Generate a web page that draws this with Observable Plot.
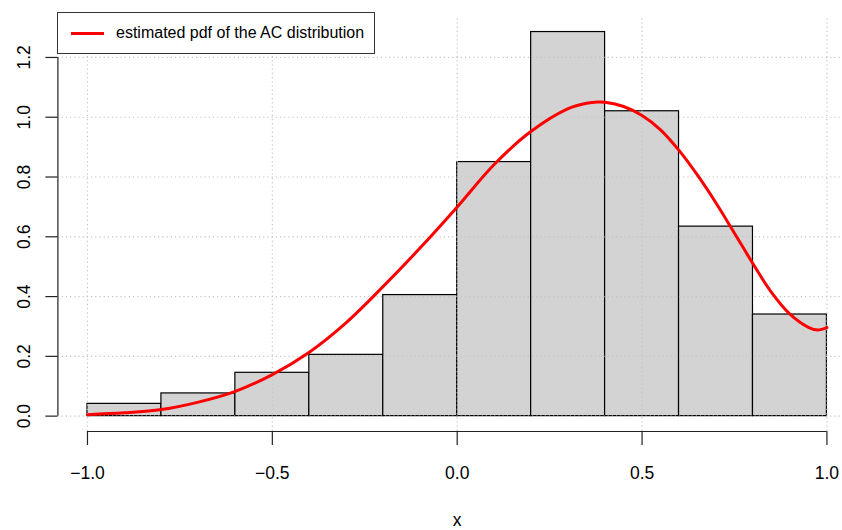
<!DOCTYPE html>
<html>
<head>
<meta charset="utf-8">
<script src="https://cdn.jsdelivr.net/npm/d3@7"></script>
<script src="https://cdn.jsdelivr.net/npm/@observablehq/plot@0.6"></script>
<style>
  html, body { margin: 0; padding: 0; background: #fff; overflow: hidden; }
  #wrap { position: relative; width: 842px; height: 530px; }
  #legend {
    position: absolute; left: 57px; top: 12px; width: 316px; height: 40px;
    border: 1px solid #333; background: #fff; box-sizing: content-box;
    font-family: "Liberation Sans", Arial, Helvetica, sans-serif; font-size: 16px; color: #000;
  }
  #legend svg { position: absolute; left: 0; top: 0; }
  #legend span { position: absolute; left: 58px; top: 10px; line-height: 20px; white-space: nowrap; }
</style>
</head>
<body>
<div id="wrap"></div>
<script>
// Histogram bins (density scale)
const binStarts = [-1.0, -0.8, -0.6, -0.4, -0.2, 0.0, 0.2, 0.4, 0.6, 0.8];
const binEnds   = [-0.8, -0.6, -0.4, -0.2, 0.0, 0.2, 0.4, 0.6, 0.8, 1.0];
const densities = [0.041, 0.076, 0.145, 0.205, 0.405, 0.850, 1.285, 1.020, 0.634, 0.340];

// Estimated pdf curve
const curveX = [-1.00, -0.90, -0.80, -0.70, -0.60, -0.50, -0.40, -0.30, -0.20, -0.10,
                 0.00,  0.10,  0.20,  0.30,  0.35,  0.38,  0.40,  0.45,  0.50,  0.55,
                 0.60,  0.65,  0.70,  0.75,  0.80,  0.85,  0.90,  0.95,  0.975, 1.00];
const curveY = [0.005, 0.011, 0.022, 0.047, 0.083, 0.139, 0.214, 0.313, 0.434, 0.563,
                0.700, 0.842, 0.953, 1.029, 1.047, 1.051, 1.050, 1.036, 1.006, 0.958,
                0.889, 0.806, 0.713, 0.612, 0.510, 0.414, 0.341, 0.297, 0.288, 0.296];

const xTicks = [-1.0, -0.5, 0.0, 0.5, 1.0];
const yTicks = [0.0, 0.2, 0.4, 0.6, 0.8, 1.0, 1.2];
const xLabel = "x";
const legendLabel = "estimated pdf of the AC distribution";

// R-style padded user ranges
const xDomain = [-1.08, 1.08];
const yDomain = [-0.0514, 1.336];

const bins = binStarts.map((s, i) => ({x1: s, x2: binEnds[i], density: densities[i]}));
const curve = curveX.map((x, i) => ({x, y: curveY[i]}));

const fmt = d3.format(".1f");
const font = "'Liberation Sans', Arial, Helvetica, sans-serif";
const grid = {stroke: "#c4c4c4", strokeOpacity: 1, strokeWidth: 1.2, strokeDasharray: "1.2,3"};
const axisStroke = {stroke: "#222", strokeWidth: 1.2};

const chart = Plot.plot({
  width: 842,
  height: 530,
  marginLeft: 57,
  marginRight: 0,
  marginTop: 16,
  marginBottom: 99,
  style: {fontFamily: font, background: "#fff"},
  x: {domain: xDomain, range: [57.4, 856], axis: null},
  y: {domain: yDomain, range: [431, 16.3], axis: null},
  marks: [
    Plot.rectY(bins, {x1: "x1", x2: "x2", y: "density", fill: "#d3d3d3", stroke: "#000", strokeWidth: 1.2}),
    Plot.ruleX(xTicks, {x: d => d, y1: yDomain[0], y2: yDomain[1], ...grid}),
    Plot.ruleY(yTicks, {y: d => d, x1: xDomain[0], x2: xDomain[1], ...grid}),
    Plot.line(curve, {x: "x", y: "y", stroke: "#ff0000", strokeWidth: 3, curve: "catmull-rom"}),
    // x axis
    Plot.ruleY([yDomain[0]], {x1: xTicks[0], x2: xTicks[xTicks.length - 1], ...axisStroke}),
    Plot.ruleX(xTicks, {x: d => d, y1: yDomain[0], y2: yDomain[0], insetBottom: -14, ...axisStroke}),
    Plot.text(xTicks, {x: d => d, text: d => fmt(d), frameAnchor: "bottom", lineAnchor: "bottom",
      dy: 47, fontSize: 17.5, fill: "#000"}),
    Plot.text([xLabel], {x: d3.mean(xDomain), text: d => d, frameAnchor: "bottom", lineAnchor: "bottom",
      dy: 94, fontSize: 17.5, fill: "#000"}),
    // y axis
    Plot.ruleX([xDomain[0]], {y1: yTicks[0], y2: yTicks[yTicks.length - 1], ...axisStroke}),
    Plot.ruleY(yTicks, {y: d => d, x1: xDomain[0], x2: xDomain[0], insetLeft: -12, ...axisStroke}),
    Plot.text(yTicks, {y: d => d, text: d => fmt(d), frameAnchor: "left", dx: -28, rotate: -90,
      lineAnchor: "bottom", textAnchor: "middle", fontSize: 17.5, fill: "#000"})
  ]
});

const wrap = document.getElementById("wrap");
wrap.appendChild(chart);

const legend = document.createElement("div");
legend.id = "legend";
legend.innerHTML = `<svg width="60" height="40"><line x1="13" x2="46" y1="20.5" y2="20.5" stroke="#ff0000" stroke-width="3"/></svg><span></span>`;
legend.querySelector("span").textContent = legendLabel;
wrap.appendChild(legend);
</script>
</body>
</html>
